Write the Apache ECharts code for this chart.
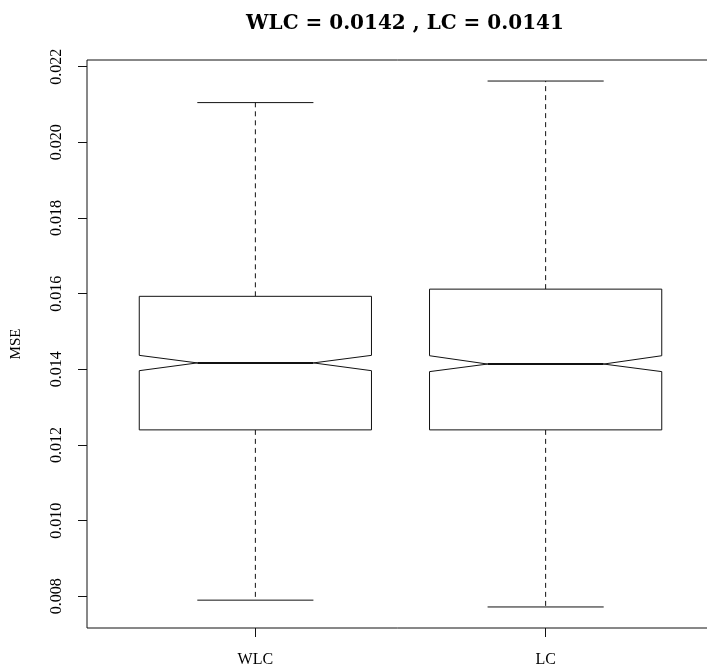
<!DOCTYPE html>
<html>
<head>
<meta charset="utf-8">
<title>WLC vs LC MSE</title>
<script src="https://cdn.jsdelivr.net/npm/echarts@6/dist/echarts.min.js"></script>
<style>
  html, body { margin: 0; padding: 0; background: #ffffff; overflow: hidden; }
  #chart { width: 707px; height: 669px; }
</style>
</head>
<body>
<div id="chart"></div>
<script>
// Groups and five-number summaries (plus notch bounds) of the MSE per method
const categories = ['WLC', 'LC'];
const whiskerLow = [0.00790, 0.00772];
const quartile1 = [0.01240, 0.01240];
const notchLow = [0.013965, 0.01394];
const medians = [0.01417, 0.01414];
const notchHigh = [0.014370, 0.01436];
const quartile3 = [0.01593, 0.01612];
const whiskerHigh = [0.02105, 0.02162];

// Tick positions on the MSE axis
const yTicks = [0.008, 0.010, 0.012, 0.014, 0.016, 0.018, 0.020, 0.022];

const titleText = 'WLC = 0.0142 , LC = 0.0141';
const yName = 'MSE';

// Axis ranges padded by 4% on each side
const dataMin = Math.min(...whiskerLow);
const dataMax = Math.max(...whiskerHigh);
const pad = (dataMax - dataMin) * 0.04;
const yMin = dataMin - pad;
const yMax = dataMax + pad;
const xPad = categories.length * 0.04;
const xMin = 0.5 - xPad;
const xMax = categories.length + 0.5 + xPad;

const boxData = categories.map((c, i) => [
  i + 1, whiskerLow[i], quartile1[i], notchLow[i], medians[i],
  notchHigh[i], quartile3[i], whiskerHigh[i]
]);

const serif = '"Liberation Serif", "DejaVu Serif", serif';
const ink = '#111111';

function renderNotchedBox(params, api) {
  const x = api.value(0);
  const lo = api.value(1), q1 = api.value(2), nLo = api.value(3);
  const med = api.value(4), nHi = api.value(5), q3 = api.value(6), hi = api.value(7);
  const c = api.coord([x, med]);
  const cx = c[0];
  const w = api.size([0.4, 0])[0];     // half box width (box width 0.8)
  const y = v => api.coord([x, v])[1];
  const yLo = y(lo), yQ1 = y(q1), yNLo = y(nLo), yMed = y(med), yNHi = y(nHi), yQ3 = y(q3), yHi = y(hi);

  const outline = [
    [cx - w, yQ1], [cx + w, yQ1], [cx + w, yNLo], [cx + w * 0.5, yMed],
    [cx + w, yNHi], [cx + w, yQ3], [cx - w, yQ3], [cx - w, yNHi],
    [cx - w * 0.5, yMed], [cx - w, yNLo]
  ];
  const lineStyle = { stroke: ink, lineWidth: 1, fill: null };
  const dashed = { stroke: ink, lineWidth: 1, lineDash: [5, 4], fill: null };

  return {
    type: 'group',
    children: [
      { type: 'line', shape: { x1: cx, y1: yQ3, x2: cx, y2: yHi }, style: dashed },
      { type: 'line', shape: { x1: cx, y1: yQ1, x2: cx, y2: yLo }, style: dashed },
      { type: 'line', shape: { x1: cx - w * 0.5, y1: yHi, x2: cx + w * 0.5, y2: yHi }, style: lineStyle },
      { type: 'line', shape: { x1: cx - w * 0.5, y1: yLo, x2: cx + w * 0.5, y2: yLo }, style: lineStyle },
      { type: 'polygon', shape: { points: outline }, style: { stroke: ink, lineWidth: 1, fill: '#ffffff' } },
      { type: 'line', shape: { x1: cx - w * 0.5, y1: yMed, x2: cx + w * 0.5, y2: yMed }, style: { stroke: ink, lineWidth: 2 } }
    ]
  };
}

const chart = echarts.init(document.getElementById('chart'), null, { renderer: 'canvas' });
chart.setOption({
  animation: false,
  backgroundColor: '#ffffff',
  title: {
    text: titleText,
    left: 400,
    top: 9,
    textAlign: 'center',
    textStyle: { fontFamily: '"DejaVu Serif", serif', fontWeight: 'bold', fontSize: 20, color: '#000' }
  },
  grid: {
    left: 87, width: 627, top: 60, bottom: 41,
    outerBoundsMode: 'none',
    containLabel: false,
    show: true, borderColor: ink, borderWidth: 1, backgroundColor: 'transparent'
  },
  xAxis: {
    type: 'value',
    min: xMin,
    max: xMax,
    splitLine: { show: false },
    axisLine: { show: false },
    axisTick: {
      show: true, length: 9, inside: false,
      customValues: categories.map((c, i) => i + 1),
      lineStyle: { color: ink, width: 1 }
    },
    axisLabel: {
      show: true, margin: 24,
      customValues: categories.map((c, i) => i + 1),
      formatter: v => categories[Math.round(v) - 1] || '',
      fontFamily: serif, fontSize: 16, color: '#000'
    }
  },
  yAxis: {
    type: 'value',
    min: yMin,
    max: yMax,
    name: yName,
    nameLocation: 'middle',
    nameGap: 63,
    nameRotate: 90,
    nameTextStyle: { fontFamily: serif, fontSize: 15, color: '#000' },
    splitLine: { show: false },
    axisLine: { show: false },
    axisTick: {
      show: true, length: 9, inside: false,
      customValues: yTicks,
      lineStyle: { color: ink, width: 1 }
    },
    axisLabel: {
      show: true, margin: 22, rotate: 90,
      customValues: yTicks,
      formatter: v => v.toFixed(3),
      fontFamily: serif, fontSize: 16, color: '#000'
    }
  },
  series: [{
    type: 'custom',
    renderItem: renderNotchedBox,
    encode: { x: 0, y: [1, 2, 3, 4, 5, 6, 7] },
    data: boxData,
    clip: false
  }]
});
</script>
</body>
</html>
